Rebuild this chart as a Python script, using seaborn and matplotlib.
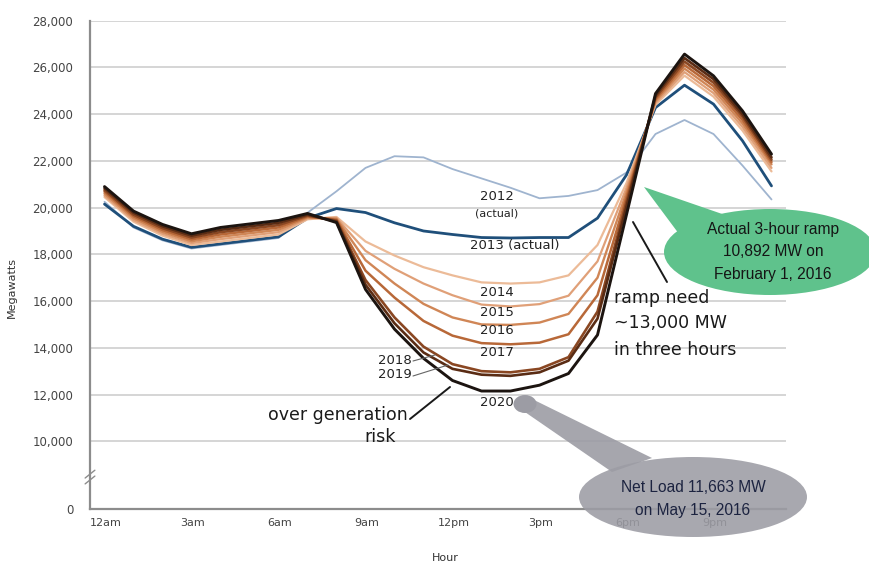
import numpy as np
import pandas as pd
import matplotlib
matplotlib.use("Agg")
import matplotlib.pyplot as plt
from matplotlib.patches import Ellipse, Polygon
from matplotlib.lines import Line2D
import seaborn as sns

hour_labels = ["12am", "3am", "6am", "9am", "12pm", "3pm", "6pm", "9pm"]
years = ["2012", "2013", "2014", "2015", "2016", "2017", "2018", "2019", "2020"]

y2012 = [20250, 19150, 18600, 18250, 18400, 18550, 18700, 19780, 20700, 21700, 22200, 22150,
         21650, 21250, 20850, 20400, 20500, 20750, 21500, 23150, 23750, 23150, 21800, 20350]
y2013 = [20150, 19200, 18650, 18300, 18450, 18600, 18750, 19550, 19960, 19790, 19350, 19000,
         18850, 18720, 18700, 18720, 18720, 19550, 21400, 24280, 25240, 24430, 22860, 20930]
y2014 = [20450, 19400, 18800, 18400, 18550, 18700, 18850, 19500, 19600, 18550, 17950, 17450,
         17100, 16800, 16750, 16800, 17100, 18400, 21050, 24400, 25650, 24750, 23300, 21550]
y2015 = [20520, 19470, 18880, 18480, 18650, 18800, 18950, 19540, 19560, 18150, 17380, 16750,
         16250, 15850, 15770, 15870, 16230, 17700, 20850, 24480, 25800, 24900, 23450, 21700]
y2016 = [20600, 19550, 18960, 18560, 18750, 18900, 19050, 19580, 19520, 17750, 16750, 15880,
         15300, 15000, 14980, 15080, 15450, 17000, 20650, 24560, 25950, 25050, 23600, 21850]
y2017 = [20680, 19630, 19040, 18640, 18850, 19000, 19150, 19620, 19480, 17300, 16150, 15150,
         14520, 14200, 14150, 14220, 14580, 16250, 20450, 24640, 26100, 25200, 23750, 21950]
y2018 = [20750, 19700, 19120, 18720, 18950, 19100, 19250, 19660, 19440, 16900, 15300, 14050,
         13300, 13000, 12950, 13100, 13600, 15550, 20250, 24720, 26250, 25350, 23900, 22050]
y2019 = [20830, 19780, 19200, 18800, 19050, 19200, 19350, 19700, 19400, 16700, 15050, 13800,
         13100, 12850, 12800, 12950, 13450, 15250, 20050, 24800, 26400, 25500, 24000, 22150]
y2020 = [20900, 19850, 19280, 18880, 19150, 19300, 19450, 19750, 19360, 16500, 14800, 13550,
         12600, 12150, 12150, 12400, 12900, 14550, 19700, 24880, 26570, 25640, 24140, 22290]
series = [y2012, y2013, y2014, y2015, y2016, y2017, y2018, y2019, y2020]

colors = ["#9fb4cf", "#1f4f7a", "#ecbb98", "#e0a078", "#d08656", "#b86838",
          "#8a4722", "#5a2c14", "#1c1410"]
widths = [1.3, 2.0, 1.6, 1.6, 1.7, 1.8, 1.9, 1.9, 2.1]

yticks = [0, 10000, 12000, 14000, 16000, 18000, 20000, 22000, 24000, 26000, 28000]

rows = []
for yr, vals in zip(years, series):
    for h, v in enumerate(vals):
        rows.append({"hour": h + 0.5, "mw": v, "year": yr})
df = pd.DataFrame(rows)

sns.set_style("white")
plt.rcParams["font.family"] = ["DejaVu Sans"]

W, H = 870, 562
fig = plt.figure(figsize=(W / 100, H / 100), dpi=100)
ax = fig.add_axes([90 / W, 1 - 509.3 / H, 696 / W, 488.6 / H])

# broken y axis: squeeze 0..10,000 into a short stretch
R = 0.2912


def fwd(y):
    y = np.asarray(y, float)
    return np.where(y >= 10000, y, 10000 - (10000 - y) * R)


def inv(d):
    d = np.asarray(d, float)
    return np.where(d >= 10000, d, 10000 - (10000 - d) / R)


ax.set_yscale("function", functions=(fwd, inv))

for i, yr in enumerate(years):
    sns.lineplot(data=df[df["year"] == yr], x="hour", y="mw", color=colors[i],
                 lw=widths[i], ax=ax, zorder=3 + i, legend=False)

ax.set_xlim(0, 24)
ax.set_ylim(0, 28000)
ax.set_yticks(yticks)
ax.set_yticklabels([f"{v:,}" for v in yticks])
ax.set_xticks([0.55 + 3 * i for i in range(8)])
ax.set_xticklabels(hour_labels)
ax.set_xticks(range(25), minor=True)
ax.tick_params(axis="x", which="major", length=0, pad=6, labelsize=8, labelcolor="#444444")
ax.tick_params(axis="x", which="minor", direction="in", length=4, color="#8c8c8c", width=1)
ax.tick_params(axis="y", length=0, pad=12, labelsize=8.5, labelcolor="#444444")
ax.grid(axis="y", color="#d2d2d2", lw=1.3)
ax.grid(axis="x", visible=False)
for s in ["top", "right"]:
    ax.spines[s].set_visible(False)
for s in ["left", "bottom"]:
    ax.spines[s].set_color("#8c8c8c")
    ax.spines[s].set_linewidth(1.6)
ax.set_xlabel("Hour", fontsize=8, color="#333333")
ax.set_ylabel("Megawatts", fontsize=8, color="#333333")
ax.xaxis.set_label_coords((445 - 90) / 696, (509.3 - 553) / 488.6)
ax.yaxis.set_label_coords((17 - 90) / 696, 1 - (288 - 20.7) / 488.6)

# axis break marks
for dy in (0.0, 0.012):
    ax.plot([-0.007, 0.007], [0.052 + dy, 0.068 + dy], transform=ax.transAxes,
            color="#8c8c8c", lw=1, clip_on=False, zorder=10)


def fp(x, y):
    return x / W, 1 - y / H


def ftext(x, y, s, **kw):
    kw.setdefault("ha", "center")
    kw.setdefault("va", "center")
    fig.text(*fp(x, y), s, **kw)


def fline(pts, **kw):
    xs, ys = zip(*[fp(x, y) for x, y in pts])
    fig.add_artist(Line2D(xs, ys, transform=fig.transFigure, **kw))


# year labels
lab = dict(fontsize=9.5, color="#222222")
ftext(497, 197, "2012", **lab)
ftext(497, 214, "(actual)", fontsize=8, color="#222222")
ftext(515, 245, "2013 (actual)", **lab)
ftext(497, 292, "2014", **lab)
ftext(497, 312, "2015", **lab)
ftext(497, 331, "2016", **lab)
ftext(497, 353, "2017", **lab)
ftext(412, 361, "2018", ha="right", **lab)
ftext(412, 375, "2019", ha="right", **lab)
ftext(497, 402, "2020", **lab)
fline([(413, 361), (435, 355)], color="#666666", lw=0.8)
fline([(413, 376), (448, 365)], color="#666666", lw=0.8)

big = dict(fontsize=12.5, color="#1a1a1a")
ftext(338, 415, "over generation", **big)
ftext(380, 437, "risk", **big)
fline([(410, 419), (450, 387)], color="#1a1a1a", lw=1.4)

ftext(614, 298, "ramp need", ha="left", **big)
ftext(614, 323, "~13,000 MW", ha="left", **big)
ftext(614, 350, "in three hours", ha="left", **big)
fline([(633, 222), (667, 282)], color="#1a1a1a", lw=1.4)

# green callout
green = "#5fc28c"
fig.add_artist(Polygon([fp(644, 187), fp(728, 216), fp(682, 238)], closed=True,
                       transform=fig.transFigure, fc=green, ec="none", zorder=5))
fig.add_artist(Ellipse(fp(770, 252), 212 / W, 86 / H, transform=fig.transFigure,
                       fc=green, ec="none", zorder=5))
narrow = ["Liberation Sans", "DejaVu Sans"]
gt = dict(fontsize=11.2, color="#151515", family=narrow, zorder=6)
ftext(773, 229, "Actual 3-hour ramp", **gt)
ftext(773, 252, "10,892 MW on", **gt)
ftext(773, 275, "February 1, 2016", **gt)

# gray callout
gray = "#9c9ca4"
fig.add_artist(Ellipse(fp(525, 404), 23 / W, 18 / H, transform=fig.transFigure,
                       fc=gray, ec="none", zorder=5))
fig.add_artist(Polygon([fp(530, 398), fp(652, 458), fp(612, 472), fp(522, 410)], closed=True,
                       transform=fig.transFigure, fc=gray, ec="none", alpha=0.9, zorder=5))
fig.add_artist(Ellipse(fp(693, 497), 228 / W, 80 / H, transform=fig.transFigure,
                       fc=gray, ec="none", alpha=0.88, zorder=5))
nt = dict(fontsize=11.2, color="#1c2340", family=narrow, zorder=6)
ftext(693, 487, "Net Load 11,663 MW", **nt)
ftext(693, 510, "on May 15, 2016", **nt)

fig.savefig("out.png", dpi=100)
